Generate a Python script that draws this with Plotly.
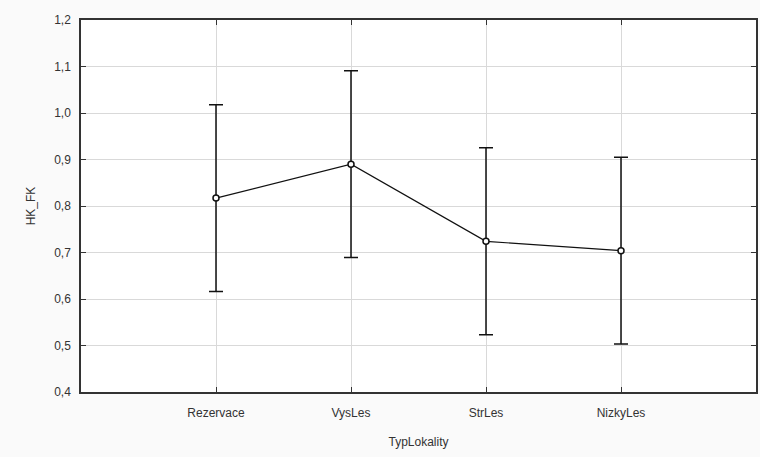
import plotly.graph_objects as go

categories = ["Rezervace", "VysLes", "StrLes", "NizkyLes"]
means = [0.817, 0.890, 0.724, 0.704]
errors = [0.201, 0.201, 0.201, 0.201]
y_ticks = [0.4, 0.5, 0.6, 0.7, 0.8, 0.9, 1.0, 1.1, 1.2]

xpos = list(range(len(categories)))
FONT = "Liberation Sans, Arial"

fig = go.Figure()
fig.add_trace(go.Scatter(
    x=xpos, y=means, mode="lines+markers",
    line=dict(color="#111111", width=1.2),
    marker=dict(symbol="circle", size=6, color="white", line=dict(color="#111111", width=1.5)),
    error_y=dict(type="data", array=errors, visible=True, color="#111111", thickness=1.5, width=7),
    showlegend=False,
))

axis_common = dict(
    showline=True, linecolor="#333333", linewidth=1.5, mirror="ticks",
    ticks="inside", ticklen=5, tickcolor="#333333",
    showgrid=True, gridcolor="#d9d9d9", gridwidth=1, zeroline=False,
    tickfont=dict(family=FONT, size=12, color="#333333"),
)

fig.update_layout(
    width=760, height=457,
    margin=dict(l=81, r=2, t=20, b=65),
    paper_bgcolor="#fafafa", plot_bgcolor="white",
    separators=", ",
    xaxis=dict(
        range=[-1, 4], tickmode="array", tickvals=xpos, ticktext=categories,
        ticklabelstandoff=9,
        title=dict(text="TypLokality", font=dict(family=FONT, size=12, color="#333333"), standoff=18),
        **axis_common,
    ),
    yaxis=dict(
        range=[0.4, 1.2], tickmode="array", tickvals=y_ticks, tickformat=".1f",
        ticklabelstandoff=6,
        title=dict(text="HK_FK", font=dict(family=FONT, size=12, color="#333333"), standoff=16),
        **axis_common,
    ),
)

fig.write_html("out.html", config={"displayModeBar": False},
               post_script="document.body.style.margin='0';")
